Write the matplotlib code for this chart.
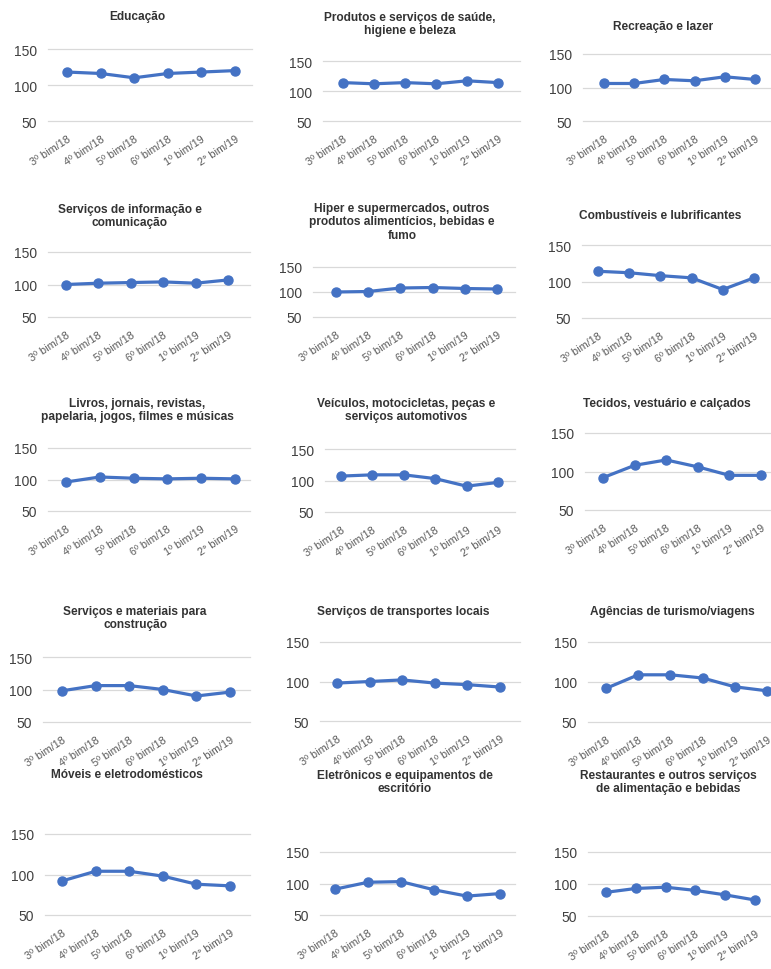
import numpy as np
import matplotlib.pyplot as plt

W, H = 771, 970

periods = ["3º bim/18", "4º bim/18", "5º bim/18", "6º bim/18", "1º bim/19", "2° bim/19"]

titles = [
    "Educação",
    "Produtos e serviços de saúde,\nhigiene e beleza",
    "Recreação e lazer",
    "Serviços de informação e\ncomunicação",
    "Hiper e supermercados, outros\nprodutos alimentícios, bebidas e\nfumo",
    "Combustíveis e lubrificantes",
    "Livros, jornais, revistas,\npapelaria, jogos, filmes e músicas",
    "Veículos, motocicletas, peças e\nserviços automotivos",
    "Tecidos, vestuário e calçados",
    "Serviços e materiais para\nconstrução",
    "Serviços de transportes locais",
    "Agências de turismo/viagens",
    "Móveis e eletrodomésticos",
    "Eletrônicos e equipamentos de\nescritório",
    "Restaurantes e outros serviços\nde alimentação e bebidas",
]

educacao = [118, 116, 110, 116, 118, 120]
saude = [114, 112, 114, 112, 117, 114]
recreacao = [106, 106, 112, 110, 116, 112]
informacao = [100, 102, 103, 104, 102, 107]
supermercados = [100, 101, 108, 109, 107, 106]
combustiveis = [114, 112, 108, 105, 89, 105]
livros = [96, 104, 102, 101, 102, 101]
veiculos = [107, 109, 109, 103, 91, 97]
tecidos = [92, 108, 115, 106, 95, 95]
construcao = [98, 106, 106, 100, 90, 96]
transportes = [98, 100, 102, 98, 96, 93]
turismo = [92, 109, 109, 105, 94, 89]
moveis = [92, 104, 104, 98, 88, 86]
eletronicos = [91, 102, 103, 90, 80, 84]
restaurantes = [87, 93, 95, 90, 83, 75]

series = [educacao, saude, recreacao, informacao, supermercados, combustiveis,
          livros, veiculos, tecidos, construcao, transportes, turismo,
          moveis, eletronicos, restaurantes]

# plot box in pixels: left, right, top (150), bottom (50), first/last point x
boxes = [
    (48, 252, 50, 122, 67, 235),
    (323, 520, 62, 122, 343, 498),
    (583, 771, 55, 122, 604, 755),
    (48, 250, 253, 318, 66, 228),
    (313, 515, 268, 318, 336, 497),
    (582, 771, 246, 319, 598, 754),
    (48, 250, 449, 512, 66, 235),
    (325, 515, 450, 513, 341, 498),
    (585, 771, 434, 511, 603, 761),
    (43, 250, 658, 723, 62, 230),
    (320, 520, 643, 722, 337, 500),
    (588, 771, 643, 723, 606, 767),
    (45, 250, 835, 916, 62, 230),
    (320, 515, 853, 916, 335, 500),
    (588, 771, 853, 917, 606, 755),
]

# title anchor: center x, top y (pixels)
title_pos = [
    (137, 11), (410, 12), (663, 21),
    (130, 204), (402, 203), (660, 210),
    (137, 398), (406, 398), (667, 398),
    (135, 606), (403, 606), (672, 606),
    (127, 769), (405, 770), (668, 770),
]

blue = "#4472c4"

fig = plt.figure(figsize=(W / 100, H / 100), dpi=100)

for vals, title, box, tpos in zip(series, titles, boxes, title_pos):
    left, right, top, bottom, p0, p5 = box
    ax = fig.add_axes([left / W, 1 - bottom / H, (right - left) / W, (bottom - top) / H])
    step = (p5 - p0) / 5
    ax.set_xlim(-(p0 - left) / step, 5 + (right - p5) / step)
    ax.set_ylim(50, 150)
    x = np.arange(len(periods))
    ax.plot(x, vals, color=blue, lw=2.3, marker="o", ms=6.5, zorder=3,
            solid_capstyle="round")
    ax.set_yticks([50, 100, 150])
    ax.yaxis.grid(True, color="#d9d9d9", lw=0.9)
    for gl in ax.get_ygridlines():
        gl.set_clip_on(False)
    ax.set_axisbelow(True)
    for s in ax.spines.values():
        s.set_visible(False)
    ax.tick_params(length=0)
    ax.tick_params(axis="y", pad=8, labelsize=10, labelcolor="#404040")
    ax.set_xticks(x)
    ax.set_xticklabels(periods, rotation=33, ha="right", va="top",
                       rotation_mode="anchor", fontsize=7.8, color="#595959")
    ax.tick_params(axis="x", pad=9)
    for lab in ax.get_yticklabels() + ax.get_xticklabels():
        lab.set_family("Liberation Sans")
    fig.text(tpos[0] / W, 1 - tpos[1] / H, title, ha="center", va="top",
             fontsize=8.6, fontweight="bold", color="#333333",
             family="Liberation Sans", linespacing=1.15)

fig.savefig("out.png", dpi=100, facecolor="white")
